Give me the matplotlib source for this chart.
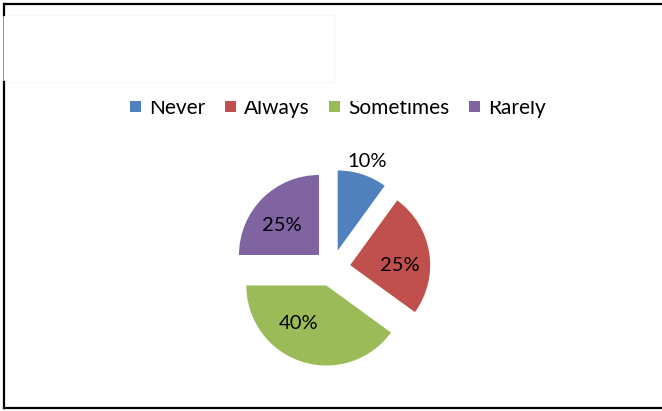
import numpy as np
import matplotlib.pyplot as plt
from matplotlib.patches import Patch, Rectangle
from matplotlib.lines import Line2D

W, H = 662, 411

labels = ['Never', 'Always', 'Sometimes', 'Rarely']
shares = [10, 25, 40, 25]
colors = ['#4F81BD', '#C0504D', '#9BBB59', '#8064A2']
# label placement: distance from wedge apex (radii) and angular nudge (deg)
label_dist = [1.17, 0.62, 0.59, 0.59]
label_turn = [0, -10, -18, 7]

plt.rcParams['font.family'] = ['Lato', 'DejaVu Sans']

fig = plt.figure(figsize=(W / 100, H / 100), dpi=100)


def px(x, y):
    # pixel position (origin top-left) -> figure fraction
    return x / W, 1 - y / H


# pie axes: centre at (332, 268) px, 80 px per unit radius
cx, cy, half = 332, 268, 130
ax = fig.add_axes([(cx - half) / W, 1 - (cy + half) / H, 2 * half / W, 2 * half / H])

wedges, _ = ax.pie(shares, colors=colors, startangle=90, counterclock=False,
                   explode=[0.23] * 4, radius=1)
ax.set_xlim(-half / 80, half / 80)
ax.set_ylim(-half / 80, half / 80)
ax.axis('off')

for w, v, d, t in zip(wedges, shares, label_dist, label_turn):
    mid = np.deg2rad((w.theta1 + w.theta2) / 2 + t)
    ox, oy = w.center
    ax.text(ox + d * np.cos(mid), oy + d * np.sin(mid), f'{v}%',
            ha='center', va='center', fontsize=14.5, color='black')

handles = [Patch(facecolor=c, edgecolor='none') for c in colors]
fig.legend(handles, labels, loc='center', bbox_to_anchor=px(338, 108), ncol=4,
           frameon=False, fontsize=15, handlelength=0.5, handleheight=0.45,
           handletextpad=0.4, columnspacing=0.95)

# white panels over the top of the chart area
fig.patches.append(Rectangle(px(6, 101), (W - 6) / W, 95 / H, transform=fig.transFigure,
                             facecolor='white', edgecolor='none', zorder=10))
fig.patches.append(Rectangle(px(3, 82), 332 / W, 67 / H, transform=fig.transFigure,
                             facecolor='white', edgecolor='#f7f7f7', linewidth=0.5, zorder=11))
fig.lines.append(Line2D([3 / W, 3 / W], [1 - 15 / H, 1 - 82 / H], transform=fig.transFigure,
                        color='#909090', linewidth=0.7, zorder=12))

# outer border: top, left and bottom only
for xs, ys in [((4, W), (4, 4)), ((4, 4), (4, 15)), ((4, 4), (82, 408)), ((4, W), (408, 408))]:
    fig.lines.append(Line2D([x / W for x in xs], [1 - y / H for y in ys],
                            transform=fig.transFigure, color='black', linewidth=1.6, zorder=13))

fig.savefig('out.png', dpi=100)
